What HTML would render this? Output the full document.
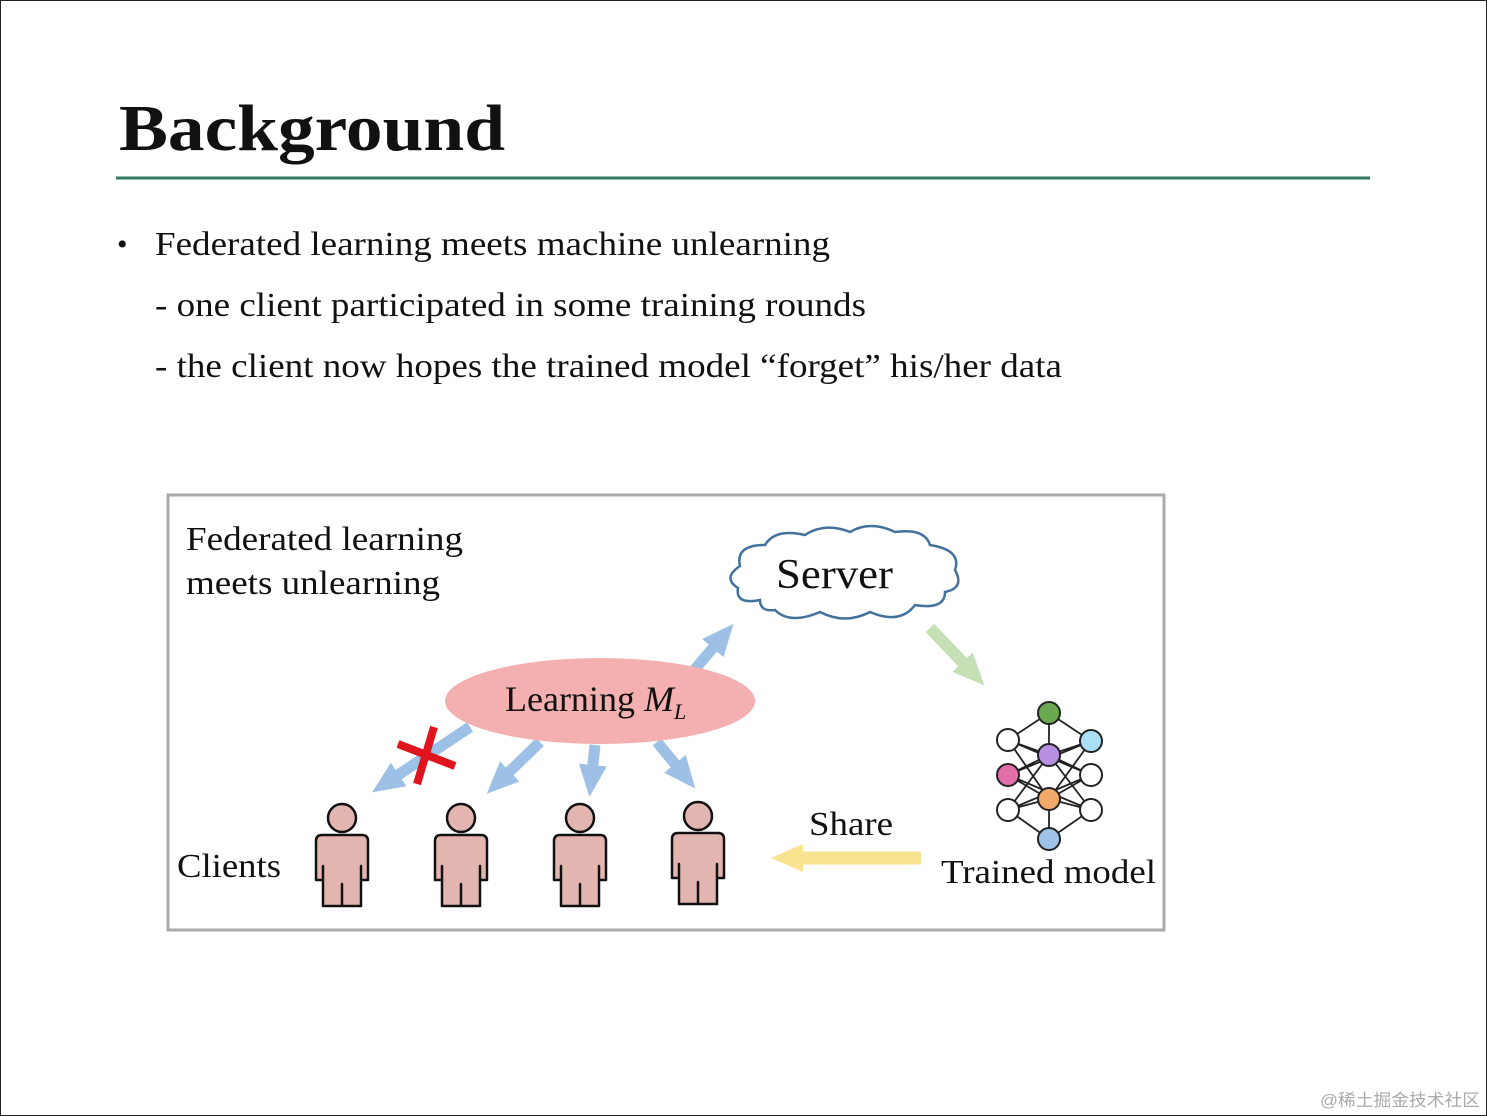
<!DOCTYPE html>
<html><head><meta charset="utf-8"><style>
html,body{margin:0;padding:0;background:#fff}
svg{display:block}
text{font-family:"Liberation Serif",serif;fill:#111}
</style></head><body>
<svg width="1487" height="1116" viewBox="0 0 1487 1116" xmlns="http://www.w3.org/2000/svg">
<defs>
<marker id="hb" markerUnits="userSpaceOnUse" markerWidth="40" markerHeight="40" refX="8" refY="20" orient="auto"><path d="M0,6 L32,20 L0,34 Z" fill="#9dc0e6"/></marker>
<marker id="hg" markerUnits="userSpaceOnUse" markerWidth="40" markerHeight="40" refX="8" refY="20" orient="auto"><path d="M0,6 L32,20 L0,34 Z" fill="#c5e0b4"/></marker>
<marker id="hy" markerUnits="userSpaceOnUse" markerWidth="40" markerHeight="40" refX="8" refY="20" orient="auto"><path d="M0,6 L32,20 L0,34 Z" fill="#f8e391"/></marker>
<g id="person" fill="#e3b5b0" stroke="#111" stroke-width="2.5">
<circle cx="0" cy="0" r="14"/>
<path d="M-20,17 L20,17 Q26,17 26,23 L26,62 L19,62 L19,48 L19,88 L0,88 L0,66 L0,88 L-19,88 L-19,48 L-19,62 L-26,62 L-26,23 Q-26,17 -20,17 Z" stroke-linejoin="round"/>
</g>
</defs>
<rect x="0.5" y="0.5" width="1486" height="1115" fill="#fff" stroke="#222"/>
<text x="119" y="150" font-size="66" font-weight="bold" textLength="386" lengthAdjust="spacingAndGlyphs">Background</text>
<line x1="116" y1="178" x2="1370" y2="178" stroke="#2f7a5c" stroke-width="3"/>
<text x="117" y="254" font-size="30">•</text>
<text x="155" y="255" font-size="34" textLength="675" lengthAdjust="spacingAndGlyphs">Federated learning meets machine unlearning</text>
<text x="155" y="316" font-size="34" textLength="711" lengthAdjust="spacingAndGlyphs">- one client participated in some training rounds</text>
<text x="155" y="377" font-size="34" textLength="907" lengthAdjust="spacingAndGlyphs">- the client now hopes the trained model “forget” his/her data</text>

<rect x="168" y="495" width="996" height="435" fill="#fff" stroke="#aaa" stroke-width="3"/>
<text x="186" y="550" font-size="34" textLength="277" lengthAdjust="spacingAndGlyphs">Federated learning</text>
<text x="186" y="594" font-size="34" textLength="254" lengthAdjust="spacingAndGlyphs">meets unlearning</text>

<path d="M760,600 Q735,605 738,588 Q722,578 740,566 Q735,545 765,545 Q775,528 805,535 Q825,522 850,532 Q870,520 895,532 Q925,528 930,545 Q962,550 955,570 Q965,588 945,592 Q945,610 915,605 Q900,625 870,612 Q845,625 820,612 Q790,625 775,610 Q760,612 760,600 Z" fill="#fff" stroke="#41719c" stroke-width="2.5"/>
<text x="776" y="588" font-size="42" textLength="117" lengthAdjust="spacingAndGlyphs">Server</text>

<g stroke="#9dc0e6" stroke-width="11" fill="none">
<line x1="690" y1="675" x2="718" y2="642" marker-end="url(#hb)"/>
<line x1="470" y1="727" x2="392" y2="779" marker-end="url(#hb)"/>
<line x1="540" y1="742" x2="504" y2="777" marker-end="url(#hb)"/>
<line x1="595" y1="745" x2="592" y2="773" marker-end="url(#hb)"/>
<line x1="657" y1="742" x2="680" y2="770" marker-end="url(#hb)"/>
</g>
<ellipse cx="600" cy="701" rx="155" ry="43" fill="#f4b0b0"/>
<text x="505" y="711" font-size="36">Learning <tspan font-style="italic">M</tspan><tspan font-style="italic" font-size="22" dy="8">L</tspan></text>
<g stroke="#e0141e" stroke-width="8"><line x1="398" y1="744" x2="455" y2="766"/><line x1="434" y1="727" x2="417" y2="784"/></g>

<line x1="930" y1="628" x2="968" y2="668" stroke="#c5e0b4" stroke-width="12" marker-end="url(#hg)"/>
<line x1="921" y1="858" x2="795" y2="858" stroke="#f8e391" stroke-width="13" marker-end="url(#hy)"/>
<text x="809" y="835" font-size="34" textLength="84" lengthAdjust="spacingAndGlyphs">Share</text>

<use href="#person" x="342" y="818"/>
<use href="#person" x="461" y="818"/>
<use href="#person" x="580" y="818"/>
<use href="#person" x="698" y="816"/>
<text x="177" y="877" font-size="34" textLength="104" lengthAdjust="spacingAndGlyphs">Clients</text>

<g stroke="#222" stroke-width="1.8">
<path d="M1049,713 L1008,740 M1049,713 L1091,741 M1049,713 L1049,755
M1008,740 L1049,755 M1008,740 L1049,799 M1008,775 L1049,755 M1008,775 L1049,799 M1008,810 L1049,755 M1008,810 L1049,799
M1091,741 L1049,755 M1091,741 L1049,799 M1091,775 L1049,755 M1091,775 L1049,799 M1091,810 L1049,755 M1091,810 L1049,799
M1008,740 L1091,775 M1008,775 L1091,741 M1008,775 L1091,810 M1008,810 L1091,775
M1049,839 L1008,810 M1049,839 L1091,810 M1049,839 L1049,799"/>
</g>
<g stroke="#222" stroke-width="2">
<circle cx="1049" cy="713" r="11" fill="#6aa84f"/>
<circle cx="1008" cy="740" r="11" fill="#fff"/>
<circle cx="1008" cy="775" r="11" fill="#e36fa8"/>
<circle cx="1008" cy="810" r="11" fill="#fff"/>
<circle cx="1049" cy="755" r="11" fill="#b78fe0"/>
<circle cx="1049" cy="799" r="11" fill="#f0aa6c"/>
<circle cx="1091" cy="741" r="11" fill="#a9e0f7"/>
<circle cx="1091" cy="775" r="11" fill="#fff"/>
<circle cx="1091" cy="810" r="11" fill="#fff"/>
<circle cx="1049" cy="839" r="11" fill="#9fc2e8"/>
</g>
<text x="941" y="883" font-size="34" textLength="215" lengthAdjust="spacingAndGlyphs">Trained model</text>

<text x="1320" y="1106" font-size="17" style="fill:#aaa;font-family:'Liberation Sans','Noto Sans CJK SC',sans-serif" textLength="160" lengthAdjust="spacingAndGlyphs">@稀土掘金技术社区</text>
</svg>
</body></html>
